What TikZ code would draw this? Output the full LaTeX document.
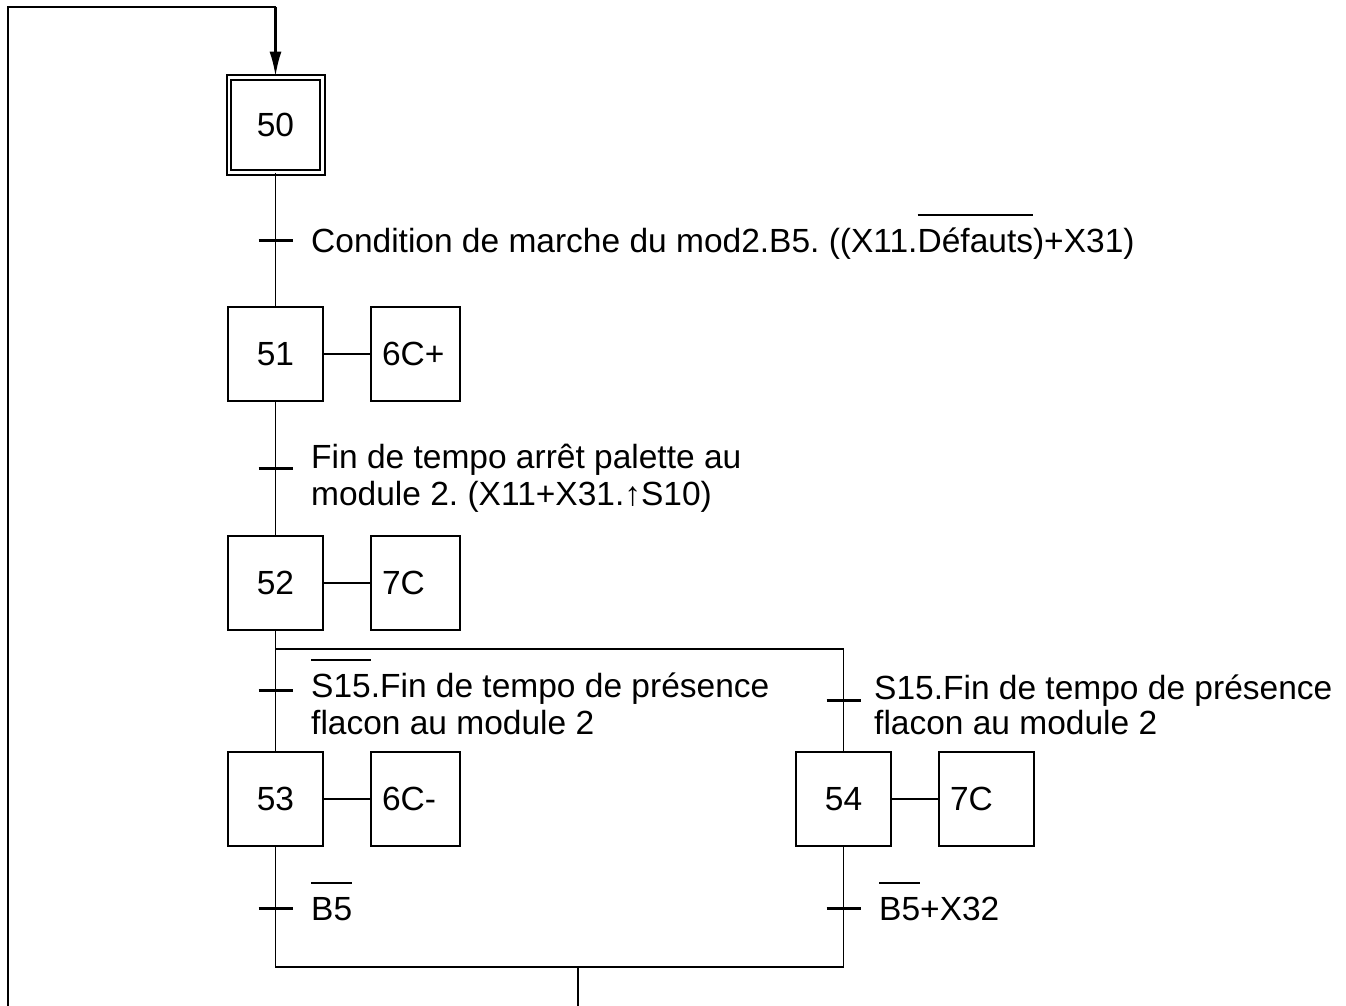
\documentclass[tikz,border=0pt]{standalone}
\usepackage{fontspec}
\setmainfont{Liberation Sans}
\usetikzlibrary{arrows.meta}
\frenchspacing
\newsavebox\ovlbox
\newcommand\ovl[1]{\sbox\ovlbox{#1}\rlap{\rule[36pt]{\wd\ovlbox}{1.6pt}}\usebox\ovlbox}
\tikzset{
  stepbox/.style={draw, line width=2pt, minimum width=95pt, minimum height=94pt, inner sep=0pt, text height=23pt, text depth=0pt},
  initstep/.style={draw, line width=2pt, double, double distance=2.4pt, minimum width=93.6pt, minimum height=94.6pt, inner sep=0pt, text height=23pt, text depth=0pt},
  actbox/.style={draw, line width=2pt, minimum height=94pt, inner xsep=11pt, inner ysep=0pt, text width=67pt, align=left, text height=23pt, text depth=0pt},
  link/.style={line width=1.9pt},
  tick/.style={line width=3pt},
  lbl/.style={anchor=base west, inner sep=0pt},
}
\begin{document}
\begin{tikzpicture}[x=1pt,y=-1pt,font=\fontsize{33.5}{37}\selectfont]
\useasboundingbox (0,0) rectangle (1346,1006);
% steps
\node[initstep] (s50) at (275.5,125) {50};
\node[stepbox] (s51) at (275.5,354) {51};
\node[actbox] (a51) at (415.5,354) {6C+};
\node[stepbox] (s52) at (275.5,583) {52};
\node[actbox] (a52) at (415.5,583) {7C};
\node[stepbox] (s53) at (275.5,799) {53};
\node[actbox] (a53) at (415.5,799) {6C-};
\node[stepbox] (s54) at (843.5,799) {54};
\node[actbox, text width=73pt] (a54) at (986.5,799) {7C};
% action links
\draw[link] (s51) -- (a51);
\draw[link] (s52) -- (a52);
\draw[link] (s53) -- (a53);
\draw[link] (s54) -- (a54);
% auxiliary points
\coordinate (lb) at (8,1006);
\coordinate (lt) at (8,7);
\coordinate (top) at (275.5,7);
\coordinate (dv) at (275.5,649);
\coordinate (dvr) at (843.5,649);
\coordinate (cl) at (275.5,967);
\coordinate (cr) at (843.5,967);
\coordinate (cm) at (578,967);
\coordinate (out) at (578,1006);
% transitions
\coordinate (t1) at (275.5,240);
\coordinate (t2) at (275.5,468);
\coordinate (t3) at (275.5,690);
\coordinate (t4) at (843.5,700);
\coordinate (t5) at (275.5,908);
\coordinate (t6) at (843.5,908);
% main links
\draw[link] (lb) -- (lt) -- (top);
\draw[line width=2.8pt, -{Latex[length=25pt,width=12pt]}] (top) -- (s50.north);
\draw[link] (s50) -- (s51);
\draw[link] (s51) -- (s52);
\draw[link] (s52) -- (dv) -- (dvr) -- (s54);
\draw[link] (dv) -- (s53);
\draw[link] (s53) -- (cl) -- (cr) -- (s54);
\draw[link] (cm) -- (out);
% ticks
\foreach \t in {t1,t2,t3,t4,t5,t6}
  \draw[tick] ([xshift=-17pt]\t) -- ([xshift=17pt]\t);
% labels
\node[lbl] (c1) at (311,252) {Condition de marche du mod2.B5. ((X11.\ovl{Défauts})+X31)};
\node[lbl] (c2a) at (311,468.5) {Fin de tempo arrêt palette au};
\node[lbl] (c2b) at (311,505.5) {module 2. (X11+X31.{\bfseries ↑}S10)};
\node[lbl] (c3a) at (311,697) {\ovl{S15}.Fin de tempo de présence};
\node[lbl] (c3b) at (311,734) {flacon au module 2};
\node[lbl] (c4a) at (874,699) {S15.Fin de tempo de présence};
\node[lbl] (c4b) at (874,734) {flacon au module 2};
\node[lbl] (c5) at (311,920) {\ovl{B5}};
\node[lbl] (c6) at (879,920) {\ovl{B5}+X32};
\end{tikzpicture}
\end{document}
